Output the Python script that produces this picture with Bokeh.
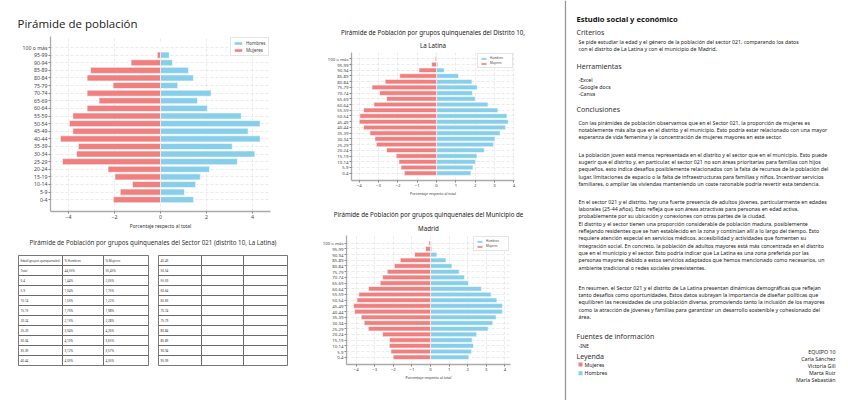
from bokeh.plotting import figure
from bokeh.layouts import row, column
from bokeh.models import Range1d, FixedTicker, Span, ColumnDataSource, Title
from bokeh.embed import file_html
from bokeh.resources import INLINE
from bokeh.core.properties import value

# ---------------- DATA ----------------
age_groups = ["0-4", "5-9", "10-14", "15-19", "20-24", "25-29", "30-34", "35-39",
              "40-44", "45-49", "50-54", "55-59", "60-64", "65-69", "70-74", "75-79",
              "80-84", "85-89", "90-94", "95-99", "100 o más"]

sector_hombres = [1.44, 1.04, 1.53, 1.73, 2.13, 3.34, 4.10, 3.12, 4.33, 3.81, 4.33,
                  3.51, 2.04, 1.61, 2.20, 0.75, 1.43, 1.22, 0.52, 0.38, 0.0]
sector_mujeres = [2.05, 1.75, 1.22, 1.98, 2.28, 4.26, 3.65, 3.57, 4.35, 3.81, 3.96,
                  3.81, 3.19, 2.67, 3.19, 2.06, 3.19, 3.04, 1.28, 0.14, 0.0]

distrito_hombres = [1.78, 1.88, 2.02, 2.09, 2.47, 2.95, 3.02, 3.29, 3.57, 3.71, 3.64,
                    3.17, 2.66, 2.00, 1.86, 2.10, 1.83, 1.14, 0.40, 0.07, 0.02]
distrito_mujeres = [1.67, 1.84, 1.95, 2.09, 2.59, 3.12, 3.19, 3.45, 3.78, 4.00, 3.97,
                    3.78, 3.24, 2.59, 2.95, 3.34, 2.66, 1.91, 0.91, 0.26, 0.07]

madrid_hombres = [2.06, 2.21, 2.31, 2.24, 2.48, 3.10, 3.35, 3.53, 3.86, 3.87, 3.57,
                  3.26, 2.73, 2.04, 1.83, 1.54, 1.15, 0.83, 0.34, 0.07, 0.04]
madrid_mujeres = [2.01, 2.13, 2.22, 2.21, 2.58, 3.35, 3.57, 3.73, 4.09, 4.14, 3.96,
                  3.86, 3.34, 2.71, 2.58, 2.33, 1.95, 1.63, 0.86, 0.27, 0.09]

table_header = ["Edad (grupos quinquenales)", "% Hombres", "% Mujeres"]
table_total = ["Total", "44,55%", "55,45%"]
table_left_groups = ["0-4", "5-9", "10-14", "15-19", "20-24", "25-29", "30-34", "35-39", "40-44"]
table_right_groups = ["45-49", "50-54", "55-59", "60-64", "65-69", "70-74", "75-79",
                      "80-84", "85-89", "90-94", "95-99"]

title_main = "Pirámide de población"
title_distrito = ["Pirámide de Población por grupos quinquenales del Distrito 10,", "La Latina"]
title_madrid = ["Pirámide de Población por grupos quinquenales del Municipio de", "Madrid"]
title_table = "Pirámide de Población por grupos quinquenales del Sector 021 (distrito 10, La Latina)"
x_label = "Porcentaje respecto al total"

heading = "Estudio social y económico"
criterios_lines = ["Se pide estudiar la edad y el género de la población del sector 021, comparando los datos",
                   "con el distrito de La Latina y con el municipio de Madrid."]
herramientas_lines = ["-Excel", "-Google docs", "-Canva"]
par1 = ["Con las pirámides de población observamos que en el Sector 021, la proporción de mujeres es",
        "notablemente más alta que en el distrito y el municipio. Esto podría estar relacionado con una mayor",
        "esperanza de vida femenina y la concentración de mujeres mayores en este sector."]
par2 = ["La población joven está menos representada en el distrito y el sector que en el municipio. Esto puede",
        "sugerir que el distrito y, en particular, el sector 021 no son áreas prioritarias para familias con hijos",
        "pequeños, esto indica desafíos posiblemente relacionados con la falta de recursos de la población del",
        "lugar, limitaciones de espacio o la falta de infraestructuras para familias y niños. Incentivar servicios",
        "familiares, o ampliar las viviendas manteniendo un coste razonable podría revertir esta tendencia."]
par3 = ["En el sector 021 y el distrito, hay una fuerte presencia de adultos jóvenes, particularmente en edades",
        "laborales (25-44 años). Esto refleja que son áreas atractivas para personas en edad activa,",
        "probablemente por su ubicación y conexiones con otras partes de la ciudad.",
        "El distrito y el sector tienen una proporción considerable de población madura, posiblemente",
        "reflejando residentes que se han establecido en la zona y continúan allí a lo largo del tiempo.  Esto",
        "requiere atención especial en servicios médicos, accesibilidad y actividades que fomenten su",
        "integración social. En concreto, la población de adultos mayores está más concentrada en el distrito",
        "que en el municipio y el sector. Esto podría indicar que La Latina es una zona preferida por las",
        "personas mayores debido a estos servicios adaptados que hemos mencionado como necesarios, un",
        "ambiente tradicional o redes sociales preexistentes."]
par4 = ["En resumen, el Sector 021 y el distrito de La Latina presentan dinámicas demográficas que reflejan",
        "tanto desafíos como oportunidades. Estos datos subrayan la importancia de diseñar políticas que",
        "equilibren las necesidades de una población diversa, promoviendo tanto la inclusión de los mayores",
        "como la atracción de jóvenes y familias para garantizar un desarrollo sostenible y cohesionado del",
        "área."]
fuentes_lines = ["-INE"]
legend_labels = ["Mujeres", "Hombres"]
team_lines = ["EQUIPO 10", "Carla Sánchez", "Victoria Gill", "Marta Ruiz", "María Sebastián"]

# ---------------- STYLE ----------------
BLUE = "#87CEEB"
RED = "#F08080"
FONT = "Noto Sans"


def pyramid(width, height, borders, xr, yr, xticks, hombres, mujeres,
            tick_size, label_size, legend_size, glyph_w, glyph_h):
    left, right, top, bottom = borders
    p = figure(width=width, height=height, x_range=Range1d(*xr), y_range=Range1d(*yr),
               output_backend="svg", toolbar_location=None, title=None,
               min_border_left=left, min_border_right=right,
               min_border_top=top, min_border_bottom=bottom)
    src = ColumnDataSource(dict(y=list(range(len(age_groups))),
                                h=hombres, m=[-v for v in mujeres]))
    p.hbar(y="y", left=0, right="h", height=0.8, source=src, fill_color=BLUE,
           line_color="white", line_width=0.6, legend_label="Hombres")
    p.hbar(y="y", left="m", right=0, height=0.8, source=src, fill_color=RED,
           line_color="white", line_width=0.6, legend_label="Mujeres")
    p.outline_line_color = None
    p.xaxis.ticker = FixedTicker(ticks=xticks)
    p.yaxis.ticker = FixedTicker(ticks=list(range(len(age_groups))))
    p.yaxis.major_label_overrides = {i: g for i, g in enumerate(age_groups)}
    p.xaxis.axis_label = x_label
    p.axis.axis_label_text_font = FONT
    p.axis.axis_label_text_font_size = label_size
    p.axis.axis_label_text_font_style = "normal"
    p.axis.axis_label_text_color = "#333333"
    p.axis.axis_label_standoff = 1
    p.axis.major_label_text_font = FONT
    p.axis.major_label_text_font_size = tick_size
    p.axis.major_label_text_color = "#444444"
    p.axis.major_label_standoff = 1
    p.axis.axis_line_color = "#aaaaaa"
    p.axis.axis_line_width = 1.3
    p.axis.major_tick_line_color = "#888888"
    p.axis.major_tick_in = 0
    p.axis.major_tick_out = 2
    p.axis.minor_tick_line_color = None
    p.grid.grid_line_color = "#dddddd"
    p.grid.grid_line_dash = "3 2"
    p.grid.grid_line_width = 0.6
    lg = p.legend[0]
    lg.location = "top_right"
    lg.label_text_font = FONT
    lg.label_text_font_size = legend_size
    lg.label_text_color = "#444444"
    lg.label_height = 2
    lg.glyph_height = glyph_h
    lg.glyph_width = glyph_w
    lg.label_standoff = 3
    lg.spacing = 1
    lg.padding = 2
    lg.margin = 1
    lg.border_line_color = "#cccccc"
    lg.border_line_width = 0.6
    lg.background_fill_alpha = 0.9
    return p


def add_titles(p, lines, size, standoffs, align="center", offset=0, font=FONT):
    # first added sits nearest to the frame
    for line, so in zip(reversed(lines), standoffs):
        t = Title(text=line, align=align, offset=offset, standoff=max(so, 0),
                  text_font=font, text_font_size=size, text_font_style="normal",
                  text_color="#222222")
        p.add_layout(t, "above")


# left column: x 0..288
p_sector = pyramid(288, 236, (50, 18, 36, 25), (-4.78, 4.78), (-1.55, 21.45), [-4, -2, 0, 2, 4],
                   sector_hombres, sector_mujeres, "5.2px", "4.8px", "4.5px", 10, 4)
add_titles(p_sector, [title_main], "11.5px", [12], align="left", offset=-33, font="Open Sans")

# middle column: x 288..560
p_distrito = pyramid(272, 200, (63, 46, 52, 20), (-4.40, 4.03), (-1.28, 21.1),
                     [-4, -3, -2, -1, 0, 1, 2, 3, 4],
                     distrito_hombres, distrito_mujeres, "4.3px", "3.6px", "3px", 7, 3)
add_titles(p_distrito, title_distrito, "6.2px", [5, 0])

p_madrid = pyramid(272, 200, (58, 50, 35, 36), (-4.52, 4.30), (-1.28, 21.35),
                   [-4, -3, -2, -1, 0, 1, 2, 3, 4],
                   madrid_hombres, madrid_mujeres, "4.3px", "3.6px", "3px", 7, 3)
add_titles(p_madrid, title_madrid, "6.2px", [6, 0])

# ---------------- TABLE FIGURE (page y 236..400) ----------------
pt = figure(width=288, height=164, x_range=Range1d(0, 288), y_range=Range1d(400, 236),
            output_backend="svg", toolbar_location=None, min_border=0,
            x_axis_location=None, y_axis_location=None)
pt.outline_line_color = None
pt.grid.visible = False

pt.text(x=[152.5], y=[242], text=[title_table], text_font=value(FONT),
        text_font_size="6.2px", text_align="center", text_baseline="middle", text_color="#333333")

left_rows = [table_header, table_total] + [[g, ("%.2f%%" % h).replace(".", ","),
                                             ("%.2f%%" % m).replace(".", ",")]
                                            for g, h, m in zip(table_left_groups, sector_hombres, sector_mujeres)]
right_rows = [[g, "", ""] for g in table_right_groups]

ROW_TOP = 255
ROW_H = 10
for col_edges, rows in (([18, 62, 103, 148], left_rows), ([158, 201, 243, 287], right_rows)):
    L, R, T, B, tx, ty, tt = [], [], [], [], [], [], []
    for i, r in enumerate(rows):
        for j in range(3):
            L.append(col_edges[j]); R.append(col_edges[j + 1])
            T.append(ROW_TOP + i * ROW_H); B.append(ROW_TOP + (i + 1) * ROW_H)
            if r[j]:
                tx.append(col_edges[j] + 2); ty.append(ROW_TOP + (i + 0.5) * ROW_H); tt.append(r[j])
    pt.quad(left=L, right=R, top=T, bottom=B, fill_color="white", line_color="#555555", line_width=0.8)
    pt.text(x=tx, y=ty, text=tt, text_font=value(FONT), text_font_size="3px",
            text_baseline="middle", text_color="#333333")

# ---------------- TEXT FIGURE (page x 560..848) ----------------
pr = figure(width=288, height=400, x_range=Range1d(560, 848), y_range=Range1d(400, 0),
            output_backend="svg", toolbar_location=None, min_border=0,
            x_axis_location=None, y_axis_location=None)
pr.outline_line_color = None
pr.grid.visible = False
pr.add_layout(Span(location=565, dimension="height", line_color="#999999", line_width=1.3))

X0 = 576
XB = 578
LS = 7.35
BODY = "5.25px"
HEAD = "7px"


def txt(x, y, lines, size, style="normal", color="#222222", align="left", step=LS):
    pr.text(x=[x] * len(lines), y=[y + i * step for i in range(len(lines))], text=lines,
            text_font=value(FONT), text_font_size=size, text_font_style=style,
            text_color=color, text_align=align, text_baseline="middle")


txt(X0, 18, [heading], "7.6px", "bold", "#111111")
txt(X0, 32, ["Criterios"], HEAD, color="#333333")
txt(XB, 41, criterios_lines, BODY, step=7.2)
txt(X0, 66, ["Herramientas"], HEAD, color="#333333")
txt(XB, 79, herramientas_lines, BODY, step=7.2)
txt(X0, 109, ["Conclusiones"], HEAD, color="#333333")
txt(XB, 122, par1, BODY)
txt(XB, 154, par2, BODY)
txt(XB, 201, par3, BODY)
txt(XB, 287, par4, BODY)
txt(X0, 336, ["Fuentes de información"], HEAD, color="#333333")
txt(XB, 345, fuentes_lines, BODY)
txt(X0, 356, ["Leyenda"], HEAD, color="#333333")
txt(584, 364, legend_labels, BODY, step=8.7)
pr.rect(x=[580, 580], y=[364, 372.7], width=4, height=4, fill_color=[RED, BLUE], line_color=None)
txt(835, 351, team_lines, BODY, align="right", step=7.1)

# each plot wrapped in its own container so that frames are not aligned across plots
layout = row(column(row(p_sector), row(pt)),
             column(row(p_distrito), row(p_madrid)),
             pr)
open("out.html", "w").write(file_html(layout, INLINE))
